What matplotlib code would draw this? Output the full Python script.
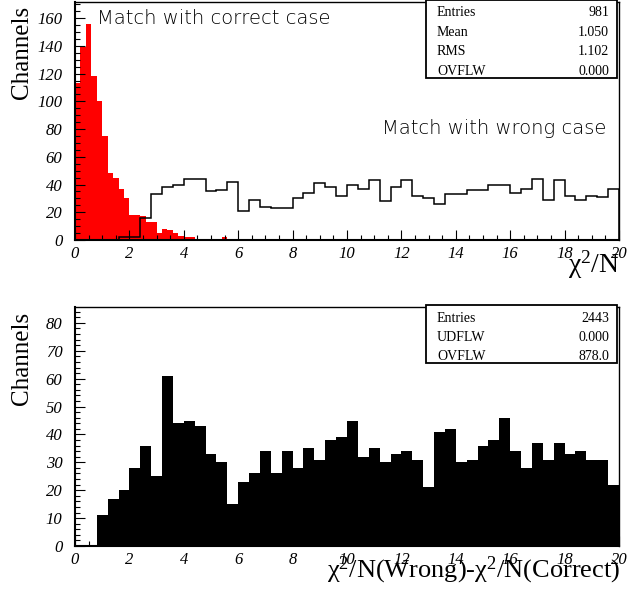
import numpy as np
import matplotlib
matplotlib.use('Agg')
import matplotlib.pyplot as plt
from matplotlib.patches import Rectangle
from matplotlib.ticker import MultipleLocator

plt.rcParams['mathtext.fontset'] = 'custom'
plt.rcParams['mathtext.rm'] = 'Liberation Serif'
plt.rcParams['mathtext.it'] = 'Liberation Serif:italic'

# chi2/N for the correct assignment, 0.2 wide bins over 0..20
correct_counts = [113, 139, 156, 118, 100, 75, 48, 45, 37, 30,
                  18, 18, 17, 13, 13, 5, 8, 7, 5, 3,
                  2, 2, 0, 0, 1, 1, 0, 2, 1, 1,
                  0, 1, 0, 0, 1, 1, 0, 1, 1, 0] + [0] * 10 + [1] + [0] * 17 + [1] + [0] * 31

# chi2/N for the wrong assignment, 0.4 wide bins over 0..20
wrong_counts = [0, 0, 0, 0, 2, 2, 16, 33, 38, 40,
                44, 44, 35, 36, 42, 21, 29, 24, 23, 23,
                30, 34, 41, 38, 32, 40, 37, 43, 28, 38,
                43, 32, 30, 26, 33, 33, 36, 36, 40, 40,
                34, 37, 44, 29, 43, 32, 29, 32, 31, 37]

# chi2/N(wrong) - chi2/N(correct), 0.4 wide bins over 0..20
diff_counts = [0, 0, 11, 17, 20, 28, 36, 25, 61, 44,
               45, 43, 33, 30, 15, 23, 26, 34, 26, 34,
               28, 35, 31, 38, 39, 45, 32, 35, 30, 33,
               34, 31, 21, 41, 42, 30, 31, 36, 38, 46,
               34, 28, 37, 31, 37, 33, 34, 31, 31, 22]

top_stats = [('Entries', '981'), ('Mean', '1.050'), ('RMS', '1.102'), ('OVFLW', '0.000')]
bot_stats = [('Entries', '2443'), ('UDFLW', '0.000'), ('OVFLW', '878.0')]

W, H = 628, 598
fig = plt.figure(figsize=(W / 100, H / 100), dpi=100)


def px_axes(x0, y0, x1, y1):
    return fig.add_axes([x0 / W, 1 - y1 / H, (x1 - x0) / W, (y1 - y0) / H])


def style(ax, ymax, ymajor, yminor):
    ax.set_xlim(0, 20)
    ax.set_ylim(0, ymax)
    ax.xaxis.set_major_locator(MultipleLocator(2))
    ax.xaxis.set_minor_locator(MultipleLocator(0.5))
    ax.yaxis.set_major_locator(MultipleLocator(ymajor))
    ax.yaxis.set_minor_locator(MultipleLocator(yminor))
    ax.tick_params(which='both', direction='in', top=False, right=False, width=0.8)
    ax.tick_params(which='major', length=7)
    ax.tick_params(which='minor', length=3.5)
    ax.tick_params(axis='y', pad=9)
    ax.tick_params(axis='x', pad=4)
    for lab in ax.get_xticklabels() + ax.get_yticklabels():
        lab.set_fontfamily('Liberation Serif')
        lab.set_fontstyle('italic')
        lab.set_fontsize(12)
    for s in ax.spines.values():
        s.set_linewidth(1.0)
    ax.spines['left'].set_linewidth(1.5)
    ax.spines['bottom'].set_linewidth(1.5)


def stat_box(x0, y0, x1, rows):
    h = 19.3 * len(rows) + 0.5
    fig.patches.append(Rectangle((x0 / W, 1 - (y0 + h) / H), (x1 - x0) / W, h / H,
                                 transform=fig.transFigure, fill=True, facecolor='white',
                                 edgecolor='black', lw=1.3, zorder=5))
    for i, (k, v) in enumerate(rows):
        y = 1 - (y0 + 13 + 19.4 * i) / H
        fig.text((x0 + 11) / W, y, k, family='Liberation Serif', fontsize=10,
                 va='center', ha='left', zorder=6)
        fig.text((x1 - 8) / W, y, v, family='Liberation Serif', fontsize=10,
                 va='center', ha='right', zorder=6)


edges_fine = np.linspace(0, 20, len(correct_counts) + 1)
edges = np.linspace(0, 20, len(wrong_counts) + 1)

ax1 = px_axes(75, 2, 619, 240)
ax1.stairs(correct_counts, edges_fine, fill=True, color='#ff0000')
ax1.stairs(wrong_counts, edges, color='black', lw=1.1)
style(ax1, 171.6, 20, 5)
ax1.text(0.04, 0.93, 'Match with correct case', transform=ax1.transAxes,
         family='DejaVu Sans', fontweight='light', fontsize=14, va='center')
ax1.text(0.565, 0.47, 'Match with wrong case', transform=ax1.transAxes,
         family='DejaVu Sans', fontweight='light', fontsize=14, va='center')

ax2 = px_axes(75, 307, 619, 546)
ax2.stairs(diff_counts, edges, fill=True, color='black')
style(ax2, 85.7, 10, 2)

fig.text(22 / W, 1 - 52 / H, 'Channels', rotation=90, family='Liberation Serif',
         fontsize=18, ha='center', va='center')
fig.text(22 / W, 1 - 358 / H, 'Channels', rotation=90, family='Liberation Serif',
         fontsize=18, ha='center', va='center')
fig.text(620 / W, 1 - 273 / H, r'$\mathrm{χ^{2}/N}$', fontsize=20, ha='right', va='baseline')
fig.text(620 / W, 1 - 577 / H, r'$\mathrm{χ^{2}/N(Wrong)\text{-}χ^{2}/N(Correct)}$',
         fontsize=19, ha='right', va='baseline')

stat_box(426, 0, 617, top_stats)
stat_box(426, 305, 617, bot_stats)

fig.savefig('out.png', dpi=100)
